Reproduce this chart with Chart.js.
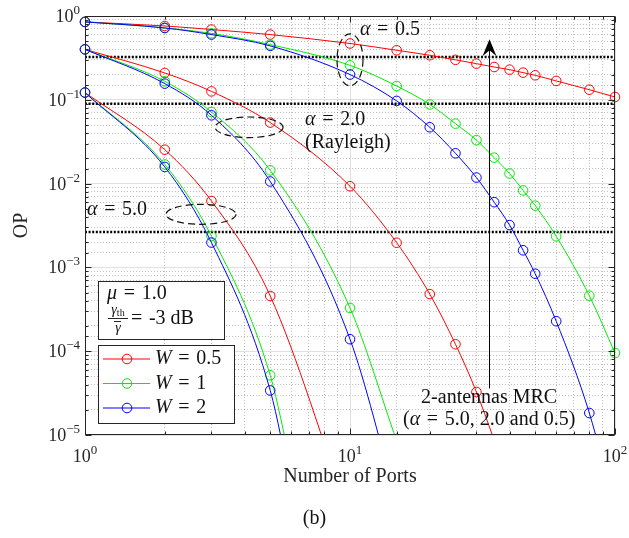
<!DOCTYPE html>
<html>
<head>
<meta charset="utf-8">
<script src="https://cdn.jsdelivr.net/npm/chart.js@4.4.1/dist/chart.umd.min.js"></script>
<style>
  html, body { margin: 0; padding: 0; background: #fff; }
</style>
</head>
<body>
<canvas id="op" width="629" height="538"></canvas>
<script>
// number of ports (x) for each curve
const portsA05 = [1, 2, 3, 5, 10, 15, 20, 25, 30, 35, 40, 45, 50, 60, 80, 100];
const portsA2Red = [1, 2, 3, 5, 10, 15, 20, 25, 30, 40];
const portsA2 = [1, 2, 3, 5, 10, 15];
const portsA5Red = [1, 2, 3, 5, 10];
const portsA5 = [1, 2, 3, 5, 6];

// outage probability, alpha = 0.5
const opA05W05 = [0.85, 0.76, 0.69, 0.60, 0.47, 0.39, 0.34, 0.30, 0.27, 0.246, 0.229, 0.211, 0.196, 0.168, 0.132, 0.108];
const opA05W1 = [0.85, 0.72, 0.62, 0.456, 0.258, 0.146, 0.088, 0.052, 0.033, 0.0204, 0.0132, 0.0083, 0.00546, 0.00235, 0.00046, 0.000095];
const opA05W2 = [0.85, 0.72, 0.60, 0.44, 0.20, 0.097, 0.047, 0.023, 0.0118, 0.0060, 0.0032, 0.0016, 0.00084, 0.000228, 0.0000183, 0.0000013];

// outage probability, alpha = 2.0 (Rayleigh)
const opA2W05 = [0.40, 0.209, 0.126, 0.0535, 0.0093, 0.00197, 0.00048, 0.000121, 0.0000326, 0.0000026];
const opA2W1 = [0.40, 0.166, 0.0715, 0.0144, 0.000328, 0.0000085];
const opA2W2 = [0.40, 0.156, 0.0653, 0.0106, 0.000139, 0.0000016];

// outage probability, alpha = 5.0
const opA5W05 = [0.122, 0.0254, 0.0062, 0.000456, 0.000001];
const opA5W1 = [0.122, 0.0169, 0.00237, 0.0000515, 0.0000042];
const opA5W2 = [0.122, 0.0158, 0.00198, 0.000034, 0.0000024];

// 2-antenna MRC levels (alpha = 0.5, 2.0, 5.0)
const mrcLevels = [0.324, 0.090, 0.00265];

// tick labels
const xTickValues = [1, 10, 100];
const xTickExps = ['0', '1', '2'];
const yTickValues = [1, 0.1, 0.01, 0.001, 0.0001, 0.00001];
const yTickExps = ['0', '\u22121', '\u22122', '\u22123', '\u22124', '\u22125'];

const SERIF = '"Liberation Serif", "DejaVu Serif", serif';
const INK = '#262626';
const RED = 'rgb(255,0,0)', GREEN = 'rgb(0,235,0)', BLUE = 'rgb(0,0,255)';

const fnt = (size, italic) => (italic ? 'italic ' : '') + size + 'px ' + SERIF;
const isDecade = v => v > 0 && Math.abs(Math.log10(v) - Math.round(Math.log10(v))) < 1e-9;

function curve(xs, ys, color) {
  return {
    data: xs.map((x, i) => ({ x: x, y: ys[i] })),
    borderColor: color,
    backgroundColor: 'rgba(0,0,0,0)',
    borderWidth: 1,
    pointRadius: c => (c.raw && c.raw.y < 1e-5) ? 0 : 4.8,
    pointBorderWidth: 1,
    pointBorderColor: color,
    pointBackgroundColor: 'rgba(0,0,0,0)',
    cubicInterpolationMode: 'monotone',
    clip: { left: 8, right: 8, top: 8, bottom: 0 }
  };
}

function mrcLine(level) {
  return {
    data: [{ x: 1, y: level }, { x: 100, y: level }],
    borderColor: '#000',
    borderWidth: 2.5,
    borderDash: [2, 1.6],
    pointRadius: 0,
    clip: 0
  };
}

// text made of parts: [text, size, italic, dy]
function rich(ctx, parts, x, y, align) {
  let w = 0;
  parts.forEach(p => { ctx.font = fnt(p[1], p[2]); w += ctx.measureText(p[0]).width; });
  let cx = align === 'center' ? x - w / 2 : (align === 'right' ? x - w : x);
  parts.forEach(p => {
    ctx.font = fnt(p[1], p[2]);
    ctx.fillText(p[0], cx, y + (p[3] || 0));
    cx += ctx.measureText(p[0]).width;
  });
}

const EQ = '\u2004=\u2004';
const FS = 20;

const decor = {
  id: 'decor',
  afterDatasetsDraw(chart) {
    const { ctx, chartArea: a, scales: { x, y } } = chart;
    const P = (vx, vy) => [x.getPixelForValue(vx), y.getPixelForValue(vy)];
    const line = (x1, y1, x2, y2) => { ctx.beginPath(); ctx.moveTo(x1, y1); ctx.lineTo(x2, y2); ctx.stroke(); };
    ctx.save();

    // frame and inward ticks
    ctx.strokeStyle = INK;
    ctx.lineWidth = 1;
    const L = Math.round(a.left) + 0.5, R = Math.round(a.right) - 0.5;
    const T = Math.round(a.top) + 0.5, B = Math.round(a.bottom) - 0.5;
    ctx.strokeRect(L, T, R - L, B - T);
    x.ticks.forEach(t => {
      const px = Math.round(x.getPixelForValue(t.value)) + 0.5;
      const len = isDecade(t.value) ? 6 : 3;
      line(px, B, px, B - len);
      line(px, T, px, T + len);
    });
    y.ticks.forEach(t => {
      const py = Math.round(y.getPixelForValue(t.value)) + 0.5;
      const len = isDecade(t.value) ? 6 : 3;
      line(L, py, L + len, py);
      line(R, py, R - len, py);
    });

    // tick labels
    ctx.fillStyle = INK;
    ctx.textBaseline = 'alphabetic';
    xTickValues.forEach((v, i) => {
      rich(ctx, [['10', 18], [xTickExps[i], 13, false, -8]], x.getPixelForValue(v), a.bottom + 27, 'center');
    });
    yTickValues.forEach((v, i) => {
      rich(ctx, [['10', 18], [yTickExps[i], 13, false, -8]], a.left - 5, y.getPixelForValue(v) + 6, 'right');
    });

    // dashed ellipses
    ctx.strokeStyle = '#111';
    ctx.lineWidth = 1.2;
    ctx.setLineDash([7, 4]);
    [[10, 0.30, 13, 26], [4.16, 0.047, 34, 10.3], [2.74, 0.0043, 35, 10]].forEach(e => {
      const p = P(e[0], e[1]);
      ctx.beginPath();
      ctx.ellipse(p[0], p[1], e[2], e[3], 0, 0, Math.PI * 2);
      ctx.stroke();
    });
    ctx.setLineDash([]);

    // arrow
    const top = P(33.5, 0.527), bot = P(33.5, 0.000036);
    const ax = Math.round(top[0]) + 0.5;
    ctx.strokeStyle = '#000';
    ctx.fillStyle = '#000';
    ctx.lineWidth = 1;
    line(ax, bot[1], ax, top[1] + 10);
    ctx.beginPath();
    ctx.moveTo(ax, top[1]);
    ctx.lineTo(ax - 7, top[1] + 17);
    ctx.lineTo(ax, top[1] + 11);
    ctx.lineTo(ax + 7, top[1] + 17);
    ctx.closePath();
    ctx.fill();

    // annotations
    ctx.fillStyle = '#111';
    ctx.textBaseline = 'middle';
    let p = P(10.9, 0.694);
    rich(ctx, [['\u03b1', FS, true], [EQ + '0.5', FS]], p[0], p[1], 'left');
    p = P(6.77, 0.0585);
    rich(ctx, [['\u03b1', FS, true], [EQ + '2.0', FS]], p[0], p[1], 'left');
    p = P(6.77, 0.0311);
    rich(ctx, [['(Rayleigh)', FS]], p[0], p[1], 'left');
    p = P(1.0175, 0.00481);
    rich(ctx, [['\u03b1', FS, true], [EQ + '5.0', FS]], p[0], p[1], 'left');
    p = P(33.5, 0.000028);
    rich(ctx, [['2-antennas MRC', FS]], p[0], p[1], 'center');
    p = P(33.5, 0.000015);
    rich(ctx, [['(', FS], ['\u03b1', FS, true], [EQ + '5.0, 2.0 and 0.5)', FS]], p[0], p[1], 'center');

    // parameter box
    ctx.fillStyle = '#fff';
    ctx.strokeStyle = INK;
    ctx.fillRect(98, 281, 126, 58);
    ctx.strokeRect(98.5, 281.5, 126, 58);
    ctx.fillStyle = '#111';
    rich(ctx, [['\u03bc', FS, true], [EQ + '1.0', FS]], 107, 294, 'left');
    rich(ctx, [['\u03b3', 14, true], ['th', 10, false, 3]], 118, 310, 'center');
    line(108, 318.5, 128, 318.5);
    rich(ctx, [['\u03b3', 14, true]], 118, 328, 'center');
    line(114, 321.5, 121, 321.5);
    rich(ctx, [['=\u2004-3 dB', FS]], 131, 319, 'left');

    // legend box
    ctx.fillStyle = '#fff';
    ctx.fillRect(98, 345, 136, 78);
    ctx.strokeRect(98.5, 345.5, 136, 78);
    const entries = [['0.5', RED], ['1', GREEN], ['2', BLUE]];
    entries.forEach((e, i) => {
      const ly = 359 + i * 24.5;
      ctx.strokeStyle = e[1];
      line(103, ly, 150, ly);
      ctx.beginPath();
      ctx.arc(127, ly, 4.8, 0, Math.PI * 2);
      ctx.stroke();
      ctx.fillStyle = '#111';
      rich(ctx, [['W', FS, true], [EQ + e[0], FS]], 155, ly, 'left');
    });

    // caption
    ctx.fillStyle = '#111';
    rich(ctx, [['(b)', FS]], 314.5, 519, 'center');
    ctx.restore();
  }
};

const gridOpts = {
  color: c => (c.tick && isDecade(c.tick.value)) ? 'rgba(0,0,0,0.12)' : 'rgba(0,0,0,0.25)',
  lineWidth: 1,
  drawTicks: false
};
const borderOpts = {
  display: false,
  dash: c => (c.tick && !isDecade(c.tick.value)) ? [1, 2] : []
};

new Chart(document.getElementById('op'), {
  type: 'line',
  plugins: [decor],
  data: {
    datasets: [
      curve(portsA05, opA05W2, BLUE),
      curve(portsA05, opA05W1, GREEN),
      curve(portsA05, opA05W05, RED),
      curve(portsA2, opA2W2, BLUE),
      curve(portsA2, opA2W1, GREEN),
      curve(portsA2Red, opA2W05, RED),
      curve(portsA5, opA5W2, BLUE),
      curve(portsA5, opA5W1, GREEN),
      curve(portsA5Red, opA5W05, RED),
      mrcLine(mrcLevels[0]),
      mrcLine(mrcLevels[1]),
      mrcLine(mrcLevels[2])
    ]
  },
  options: {
    responsive: false,
    animation: false,
    events: [],
    devicePixelRatio: 1,
    layout: { padding: { left: 0, right: 14, top: 16, bottom: 43 } },
    plugins: {
      legend: { display: false },
      tooltip: { enabled: false }
    },
    scales: {
      x: {
        type: 'logarithmic',
        min: 1,
        max: 100,
        afterFit: s => { s.height = 60; },
        ticks: { display: false, autoSkip: false },
        grid: gridOpts,
        border: borderOpts,
        title: {
          display: true,
          text: 'Number of Ports',
          color: INK,
          font: { family: SERIF, size: 20 },
          padding: { top: 0, bottom: 6 }
        }
      },
      y: {
        type: 'logarithmic',
        min: 0.00001,
        max: 1,
        afterFit: s => { s.width = 85; },
        ticks: { display: false, autoSkip: false },
        grid: gridOpts,
        border: borderOpts,
        title: {
          display: true,
          text: 'OP',
          color: INK,
          font: { family: SERIF, size: 20 },
          padding: { top: 10, bottom: 0 }
        }
      }
    }
  }
});
</script>
</body>
</html>
